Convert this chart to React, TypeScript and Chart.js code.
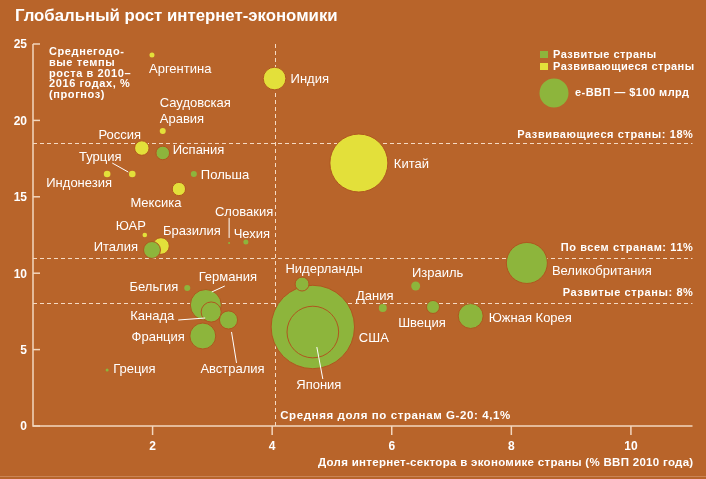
import React, { useEffect, useRef } from "react";
import { Chart, registerables } from "chart.js";
Chart.register(...registerables);

// ---- data ----
const title = "Глобальный рост интернет-экономики";
const yAxisTitle = ["Среднегодо-", "вые темпы", "роста в 2010–", "2016 годах, %", "(прогноз)"];
const xAxisTitle = "Доля интернет-сектора в экономике страны (% ВВП 2010 года)";
const xTicks = [2, 4, 6, 8, 10];
const yTicks = [0, 5, 10, 15, 20, 25];

// developed countries (green)
const developedNames = ["США", "Япония", "Нидерланды", "Великобритания", "Германия", "Канада", "Франция", "Австралия", "Италия", "Испания", "Южная Корея", "Швеция", "Польша", "Бельгия", "Дания", "Израиль", "Чехия", "Словакия", "Греция"];
const developedShare = [4.68, 4.68, 4.5, 8.26, 2.89, 2.98, 2.84, 3.27, 1.99, 2.17, 7.32, 6.69, 2.69, 2.58, 5.85, 6.4, 3.56, 3.28, 1.24];
const developedGrowth = [6.48, 6.15, 9.29, 10.67, 7.92, 7.46, 5.89, 6.94, 11.52, 17.87, 7.2, 7.79, 16.49, 9.03, 7.72, 9.16, 12.04, 11.98, 3.66];
const developedEgdp = [827, 317, 23, 200, 114, 48, 80, 39, 34, 22, 74, 20, 4.3, 4.3, 7.6, 9.6, 3.0, 0.5, 1.1];

// developing countries (yellow)
const developingNames = ["Китай", "Индия", "Бразилия", "Россия", "Мексика", "Индонезия", "Турция", "Саудовская\nАравия", "Аргентина", "ЮАР"];
const developingShare = [5.45, 4.04, 2.14, 1.82, 2.44, 1.24, 1.66, 2.17, 1.99, 1.87];
const developingGrowth = [17.21, 22.74, 11.78, 18.19, 15.51, 16.49, 16.49, 19.3, 24.28, 12.5];
const developingEgdp = [400, 61, 33, 25, 21, 5.2, 5.2, 4.3, 3.0, 2.5];

// reference lines
const refLinesY = [18.5, 11, 8.05];
const refLabelsY = ["Развивающиеся страны: 18%", "По всем странам: 11%", "Развитые страны: 8%"];
const refLineX = 4.05;
const refLabelX = "Средняя доля по странам G-20: 4,1%";

const legendNames = ["Развитые страны", "Развивающиеся страны"];
const legendBubbleValue = 100;
const legendBubbleLabel = "е-ВВП — $100 млрд";

// ---- styles / layout ----
const BG = "#B8642A";
const GREEN = "#8DB53C";
const YELLOW = "#E3E03A";
const LINE = "#F2D6BE";
const FONT = '"Liberation Sans", Arial, Helvetica, sans-serif';
const R100 = 14.5; // px radius for $100bn
const rad = (v: number) => R100 * Math.sqrt(v / legendBubbleValue);

type LabelCfg = { dx: number; dy: number; align: CanvasTextAlign; leader?: number[] };
const labelCfg: Record<string, LabelCfg> = {
  "США": { dx: 46, dy: 11, align: "left" },
  "Япония": { dx: 6, dy: 53, align: "center", leader: [4, 15, 10, 47] },
  "Нидерланды": { dx: 22, dy: -15, align: "center" },
  "Великобритания": { dx: 25, dy: 8, align: "left" },
  "Германия": { dx: 22, dy: -28, align: "center", leader: [19, -19, 6, -13] },
  "Канада": { dx: -59, dy: 4, align: "center", leader: [-33, 8, -6, 6] },
  "Франция": { dx: -18, dy: 1, align: "right" },
  "Австралия": { dx: 4, dy: 49, align: "center", leader: [3, 12, 8, 43] },
  "Италия": { dx: -14, dy: -3, align: "right" },
  "Испания": { dx: 10, dy: -3, align: "left" },
  "Южная Корея": { dx: 18, dy: 2, align: "left" },
  "Швеция": { dx: -11, dy: 16, align: "center" },
  "Польша": { dx: 7, dy: 1, align: "left" },
  "Бельгия": { dx: -9, dy: -1, align: "right" },
  "Дания": { dx: -8, dy: -12, align: "center" },
  "Израиль": { dx: 22, dy: -13, align: "center" },
  "Чехия": { dx: 6, dy: -8, align: "center" },
  "Словакия": { dx: 15, dy: -31, align: "center", leader: [0, -25, 0, -5] },
  "Греция": { dx: 6, dy: -1, align: "left" },
  "Китай": { dx: 35, dy: 1, align: "left" },
  "Индия": { dx: 16, dy: 1, align: "left" },
  "Бразилия": { dx: 2, dy: -15, align: "left" },
  "Россия": { dx: -22, dy: -13, align: "center" },
  "Мексика": { dx: -23, dy: 14, align: "center" },
  "Индонезия": { dx: -28, dy: 9, align: "center" },
  "Турция": { dx: -32, dy: -17, align: "center", leader: [-20, -11, -4, -2] },
  "Саудовская\nАравия": { dx: -3, dy: -28, align: "left" },
  "Аргентина": { dx: -3, dy: 14, align: "left" },
  "ЮАР": { dx: -14, dy: -9, align: "center" },
};

const setSpacing = (ctx: any, v: string) => {
  if ("letterSpacing" in ctx) ctx.letterSpacing = v;
};

const decorPlugin = {
  id: "decor",
  beforeDraw(chart: any) {
    const ctx = chart.ctx;
    ctx.save();
    ctx.fillStyle = BG;
    ctx.fillRect(0, 0, chart.width, chart.height);
    ctx.strokeStyle = "rgba(255,230,210,0.25)";
    ctx.lineWidth = 1;
    ctx.beginPath();
    ctx.moveTo(0, chart.height - 2.5);
    ctx.lineTo(chart.width, chart.height - 2.5);
    ctx.stroke();
    ctx.restore();
  },
  beforeDatasetsDraw(chart: any) {
    const ctx = chart.ctx;
    const xs = chart.scales.x, ys = chart.scales.y;
    const left = xs.getPixelForValue(0), right = xs.getPixelForValue(xs.max);
    const top = ys.getPixelForValue(25), bottom = ys.getPixelForValue(0);
    ctx.save();
    // dashed reference lines
    ctx.strokeStyle = "rgba(255,238,222,0.85)";
    ctx.lineWidth = 1;
    ctx.setLineDash([4, 3]);
    refLinesY.forEach((v) => {
      const y = Math.round(ys.getPixelForValue(v)) + 0.5;
      ctx.beginPath();
      ctx.moveTo(left, y);
      ctx.lineTo(right, y);
      ctx.stroke();
    });
    const vx = Math.round(xs.getPixelForValue(refLineX)) + 0.5;
    ctx.beginPath();
    ctx.moveTo(vx, top);
    ctx.lineTo(vx, bottom);
    ctx.stroke();
    ctx.setLineDash([]);

    // axes
    ctx.strokeStyle = LINE;
    ctx.lineWidth = 1.5;
    ctx.beginPath();
    ctx.moveTo(left, top);
    ctx.lineTo(left, bottom);
    ctx.lineTo(right, bottom);
    ctx.stroke();
    ctx.fillStyle = "#fff";
    ctx.font = `bold 12px ${FONT}`;
    ctx.textBaseline = "middle";
    ctx.textAlign = "right";
    yTicks.forEach((t) => {
      const y = ys.getPixelForValue(t);
      ctx.beginPath();
      ctx.moveTo(left, y);
      ctx.lineTo(left + 7, y);
      ctx.stroke();
      ctx.fillText(String(t), left - 6, y + 1);
    });
    ctx.textAlign = "center";
    xTicks.forEach((t) => {
      const x = xs.getPixelForValue(t);
      ctx.beginPath();
      ctx.moveTo(x, bottom);
      ctx.lineTo(x, bottom + 9);
      ctx.stroke();
      ctx.fillText(String(t), x, bottom + 21);
    });
    ctx.restore();
  },
  afterDatasetsDraw(chart: any) {
    const ctx = chart.ctx;
    const xs = chart.scales.x, ys = chart.scales.y;
    const right = xs.getPixelForValue(xs.max);
    const bottom = ys.getPixelForValue(0);
    ctx.save();
    ctx.fillStyle = "#fff";
    ctx.strokeStyle = "#fff";
    ctx.lineWidth = 1;
    ctx.textBaseline = "middle";

    // country labels
    ctx.font = `13px ${FONT}`;
    chart.data.datasets.forEach((ds: any, di: number) => {
      const meta = chart.getDatasetMeta(di);
      ds.data.forEach((d: any, i: number) => {
        const cfg = labelCfg[d.name];
        if (!cfg) return;
        const el = meta.data[i];
        const px = el.x, py = el.y;
        ctx.textAlign = cfg.align;
        d.name.split("\n").forEach((line: string, li: number) => {
          ctx.fillText(line, px + cfg.dx, py + cfg.dy + li * 16);
        });
        if (cfg.leader) {
          const [a, b, c, e] = cfg.leader;
          ctx.beginPath();
          ctx.moveTo(px + a, py + b);
          ctx.lineTo(px + c, py + e);
          ctx.stroke();
        }
      });
    });

    // title
    ctx.textAlign = "left";
    ctx.font = `bold 16.8px ${FONT}`;
    ctx.fillText(title, 15, 16);

    // y axis title
    ctx.font = `bold 11px ${FONT}`;
    setSpacing(ctx, "0.6px");
    yAxisTitle.forEach((l, i) => ctx.fillText(l, 49, 52 + i * 10.8));

    // reference labels
    ctx.textAlign = "right";
    refLinesY.forEach((v, i) => {
      const y = ys.getPixelForValue(v);
      ctx.fillText(refLabelsY[i], right + 1, y - (i === 0 ? 8 : 10));
    });
    ctx.textAlign = "left";
    ctx.font = `bold 11.5px ${FONT}`;
    ctx.fillText(refLabelX, xs.getPixelForValue(refLineX) + 5, bottom - 10);

    // x axis title
    ctx.textAlign = "right";
    setSpacing(ctx, "0.3px");
    ctx.fillText(xAxisTitle, right + 1, bottom + 37);

    // legend
    ctx.font = `bold 11px ${FONT}`;
    setSpacing(ctx, "0.45px");
    ctx.textAlign = "left";
    [GREEN, YELLOW].forEach((c, i) => {
      ctx.fillStyle = c;
      ctx.fillRect(540, 51 + i * 12, 8, 7);
      ctx.fillStyle = "#fff";
      ctx.fillText(legendNames[i], 553, 55 + i * 12);
    });
    ctx.fillStyle = GREEN;
    ctx.beginPath();
    ctx.arc(554, 93, rad(legendBubbleValue), 0, Math.PI * 2);
    ctx.fill();
    ctx.fillStyle = "#fff";
    ctx.fillText(legendBubbleLabel, 575, 93);
    setSpacing(ctx, "0px");
    ctx.restore();
  },
};

export default function App() {
  const ref = useRef<HTMLCanvasElement | null>(null);
  useEffect(() => {
    document.body.style.margin = "0";
    if (!ref.current) return;
    const mk = (names: string[], xs: number[], ys: number[], vs: number[]) =>
      names.map((n, i) => ({ x: xs[i], y: ys[i], r: rad(vs[i]), name: n }));
    const bw = (c: any) => (c.raw && c.raw.r > 5 ? 1 : 0);
    const chart = new Chart(ref.current, {
      type: "bubble",
      data: {
        datasets: [
          {
            label: legendNames[0],
            data: mk(developedNames, developedShare, developedGrowth, developedEgdp),
            backgroundColor: GREEN,
            borderColor: "#B0561F",
            borderWidth: bw,
            clip: false,
          } as any,
          {
            label: legendNames[1],
            data: mk(developingNames, developingShare, developingGrowth, developingEgdp),
            backgroundColor: YELLOW,
            borderColor: "#B0561F",
            borderWidth: bw,
            clip: false,
          } as any,
        ],
      },
      options: {
        responsive: false,
        animation: false,
        devicePixelRatio: 1,
        layout: { autoPadding: false, padding: { left: 33, right: 13.5, top: 44, bottom: 53 } },
        scales: {
          x: { type: "linear", min: 0, max: 11.03, display: false },
          y: { type: "linear", min: 0, max: 25, display: false },
        },
        plugins: { legend: { display: false }, tooltip: { enabled: false } },
        events: [],
      },
      plugins: [decorPlugin],
    } as any);
    return () => chart.destroy();
  }, []);
  return (
    <div style={{ position: "absolute", left: 0, top: 0, width: 706, height: 479 }}>
      <canvas ref={ref} width={706} height={479} style={{ display: "block" }} />
    </div>
  );
}
